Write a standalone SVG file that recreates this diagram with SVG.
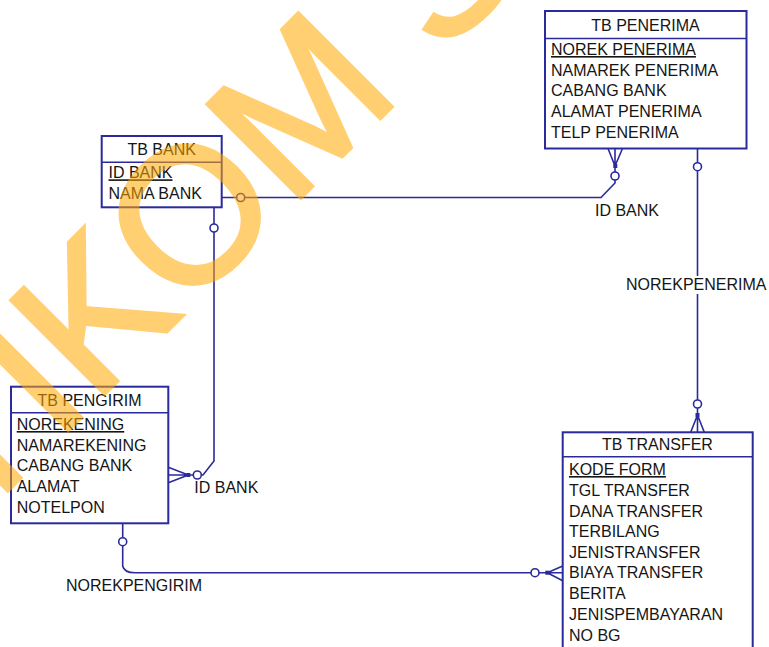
<svg xmlns="http://www.w3.org/2000/svg" width="769" height="647" viewBox="0 0 769 647">
<style>
.box{fill:#fff;stroke:#2a2a9c;stroke-width:2}
.div{stroke:#2a2a9c;stroke-width:1.5}
.ln{fill:none;stroke:#2a2a9c;stroke-width:1.6}
.opt{fill:#fff;stroke:#2a2a9c;stroke-width:1.6}
.sq{fill:#2a2a9c}
text{font-family:"Liberation Sans",Arial,sans-serif;font-size:16px;fill:#151515}
.ttl{text-anchor:middle}
.pk{text-decoration:underline}
.wm{font-size:192px;fill:#FFA800;stroke:#FFA800;stroke-width:4;stroke-linejoin:miter}
</style>
<rect width="769" height="647" fill="#fff"/>
<g id="connectors">
  <!-- TB BANK -> TB PENERIMA -->
  <path class="ln" d="M221.7,197.5 H601 L615,183 V166 M615,166 L608,148.5 M615,166 V148.5 M615,166 L622.5,148.5"/>
  <rect class="sq" x="613.3" y="164" width="4" height="4"/>
  <circle class="opt" cx="240.7" cy="197.5" r="4"/>
  <circle class="opt" cx="615" cy="176" r="4"/>
  <text x="595" y="216">ID BANK</text>
  <!-- TB BANK -> TB PENGIRIM -->
  <path class="ln" d="M214,207.3 V461 L203,475 H188.3 M188.3,475 L168.3,467.3 M188.3,475 H168.3 M188.3,475 L168.3,482.7"/>
  <rect class="sq" x="186.3" y="473" width="4" height="4"/>
  <circle class="opt" cx="214" cy="228" r="4"/>
  <circle class="opt" cx="197.3" cy="475" r="4"/>
  <text x="194.3" y="493.3">ID BANK</text>
  <!-- TB PENERIMA -> TB TRANSFER -->
  <path class="ln" d="M697.5,148.5 V415 M697.5,415 L690.7,432.3 M697.5,415 V432.3 M697.5,415 L704.3,432.3"/>
  <rect class="sq" x="695.5" y="413" width="4" height="4"/>
  <circle class="opt" cx="697.5" cy="166.7" r="4"/>
  <circle class="opt" cx="697.5" cy="404" r="4"/>
  <rect x="624" y="276" width="145" height="18" fill="#fff"/>
  <text x="626" y="290">NOREKPENERIMA</text>
  <!-- TB PENGIRIM -> TB TRANSFER -->
  <path class="ln" d="M122.7,523.3 V566 Q124,572.7 135,572.7 H547.3 M547.3,572.7 L562.7,566 M547.3,572.7 H562.7 M547.3,572.7 L562.7,580.7"/>
  <rect class="sq" x="545.3" y="570.7" width="4" height="4"/>
  <circle class="opt" cx="122.7" cy="541.7" r="4"/>
  <circle class="opt" cx="535" cy="572.7" r="4"/>
  <text x="66" y="591">NOREKPENGIRIM</text>
</g>
<g id="tb_penerima">
  <rect class="box" x="545" y="11" width="201.5" height="137.5"/>
  <line class="div" x1="545" y1="38.5" x2="746.5" y2="38.5"/>
  <text class="ttl" x="645.5" y="31">TB PENERIMA</text>
  <text class="pk" x="551" y="55">NOREK PENERIMA</text>
  <text x="551" y="75.7">NAMAREK PENERIMA</text>
  <text x="551" y="96.4">CABANG BANK</text>
  <text x="551" y="117">ALAMAT PENERIMA</text>
  <text x="551" y="137.8">TELP PENERIMA</text>
</g>
<g id="tb_bank">
  <rect class="box" x="101.7" y="136" width="120" height="71.3"/>
  <line class="div" x1="101.7" y1="162.3" x2="221.7" y2="162.3"/>
  <text class="ttl" x="161.7" y="155">TB BANK</text>
  <text class="pk" x="108.5" y="178.3">ID BANK</text>
  <text x="108.5" y="199">NAMA BANK</text>
</g>
<g id="tb_pengirim">
  <rect class="box" x="11" y="386.7" width="157.3" height="136.6"/>
  <line class="div" x1="11" y1="412.7" x2="168.3" y2="412.7"/>
  <text class="ttl" x="89.5" y="406">TB PENGIRIM</text>
  <text class="pk" x="16.7" y="430">NOREKENING</text>
  <text x="16.7" y="450.7">NAMAREKENING</text>
  <text x="16.7" y="471.4">CABANG BANK</text>
  <text x="16.7" y="492">ALAMAT</text>
  <text x="16.7" y="512.7">NOTELPON</text>
</g>
<g id="tb_transfer">
  <rect class="box" x="562.7" y="432.3" width="190" height="230"/>
  <line class="div" x1="562.7" y1="456.7" x2="752.7" y2="456.7"/>
  <text class="ttl" x="657.5" y="450">TB TRANSFER</text>
  <text class="pk" x="569" y="475">KODE FORM</text>
  <text x="569" y="496">TGL TRANSFER</text>
  <text x="569" y="516.7">DANA TRANSFER</text>
  <text x="569" y="537">TERBILANG</text>
  <text x="569" y="557.5">JENISTRANSFER</text>
  <text x="569" y="578.3">BIAYA TRANSFER</text>
  <text x="569" y="599">BERITA</text>
  <text x="569" y="620">JENISPEMBAYARAN</text>
  <text x="569" y="640.7">NO BG</text>
</g>
<text class="wm" opacity="0.55" transform="translate(-117.7,616) rotate(-45)">STIKOM S</text>
</svg>
